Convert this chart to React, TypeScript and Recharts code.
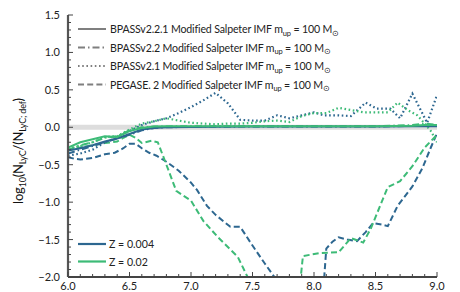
import React from "react";
import { LineChart, Line, XAxis, YAxis, ReferenceLine, Customized } from "recharts";

// ---- data ----
const solidZ004 = [
  [6.0, -0.31], [6.1, -0.28], [6.2, -0.24], [6.3, -0.19], [6.4, -0.15], [6.5, -0.09], [6.6, -0.03], [6.7, -0.01],
  [6.8, 0.0], [7.0, 0.005], [7.5, 0.01], [8.0, 0.01], [8.5, 0.01], [8.8, 0.015], [9.0, 0.015],
];
const solidZ02 = [
  [6.0, -0.27], [6.1, -0.2], [6.2, -0.16], [6.3, -0.12], [6.4, -0.13], [6.5, -0.05], [6.6, -0.01], [6.7, 0.01],
  [6.8, 0.015], [7.0, 0.015], [7.5, 0.015], [8.0, 0.015], [8.5, 0.015], [8.8, 0.02], [8.9, 0.03], [9.0, 0.03],
];
const dashdotZ004 = [
  [6.0, -0.35], [6.1, -0.3], [6.2, -0.25], [6.3, -0.2], [6.4, -0.15], [6.5, -0.1], [6.6, -0.04], [6.7, -0.01],
  [6.8, 0.0], [7.0, 0.005], [7.5, 0.01], [8.0, 0.01], [8.5, 0.01], [8.9, 0.02], [9.0, 0.02],
];
const dashdotZ02 = [
  [6.0, -0.3], [6.1, -0.24], [6.2, -0.2], [6.3, -0.14], [6.4, -0.12], [6.5, -0.04], [6.6, 0.0], [6.7, 0.01],
  [7.0, 0.015], [7.5, 0.015], [8.0, 0.015], [8.5, 0.015], [8.8, 0.03], [8.9, 0.05], [9.0, 0.03],
];
const dottedZ004 = [
  [6.0, -0.38], [6.1, -0.35], [6.2, -0.3], [6.3, -0.2], [6.4, -0.14], [6.5, -0.05], [6.6, 0.03], [6.7, 0.08],
  [6.8, 0.12], [6.9, 0.19], [7.0, 0.27], [7.1, 0.36], [7.2, 0.46], [7.3, 0.32], [7.4, 0.1], [7.5, 0.09],
  [7.6, 0.09], [7.7, 0.16], [7.8, 0.12], [7.9, 0.16], [8.0, 0.2], [8.08, 0.16], [8.2, 0.16], [8.3, 0.15],
  [8.42, 0.33], [8.51, 0.25], [8.62, 0.25], [8.7, 0.12], [8.8, 0.45], [8.88, 0.19], [8.92, 0.06], [9.0, 0.43],
];
const dottedZ02 = [
  [6.0, -0.28], [6.1, -0.25], [6.2, -0.2], [6.3, -0.13], [6.4, -0.12], [6.5, -0.03], [6.6, 0.05], [6.7, 0.08],
  [6.8, 0.12], [6.9, 0.09], [7.0, 0.06], [7.1, 0.05], [7.2, 0.04], [7.3, 0.05], [7.4, 0.05], [7.5, 0.06],
  [7.6, 0.08], [7.7, 0.09], [7.8, 0.07], [7.9, 0.15], [8.0, 0.19], [8.1, 0.19], [8.2, 0.26], [8.3, 0.23],
  [8.4, 0.2], [8.5, 0.2], [8.6, 0.2], [8.68, 0.33], [8.76, 0.23], [8.84, 0.16], [8.9, 0.05], [8.95, -0.05], [9.0, -0.2],
];
const dashedZ004 = [
  [6.0, -0.4], [6.05, -0.42], [6.1, -0.43], [6.2, -0.41], [6.3, -0.36], [6.38, -0.34], [6.45, -0.28], [6.5, -0.22],
  [6.55, -0.22], [6.6, -0.28], [6.66, -0.34], [6.72, -0.38], [6.8, -0.46], [6.9, -0.58], [7.0, -0.74], [7.05, -0.84],
  [7.13, -1.05], [7.2, -1.17], [7.32, -1.33], [7.4, -1.33], [7.5, -1.58], [7.6, -1.82], [7.7, -2.05], [7.8, -2.4],
  [8.0, -2.6], [8.07, -2.3], [8.1, -1.62], [8.15, -1.53], [8.2, -1.47], [8.27, -1.5], [8.35, -1.52], [8.42, -1.4],
  [8.48, -1.28], [8.55, -1.3], [8.6, -1.32], [8.68, -1.05], [8.8, -0.79], [8.88, -0.55], [8.95, -0.27], [9.0, -0.08],
];
const dashedZ02 = [
  [6.0, -0.31], [6.1, -0.27], [6.2, -0.24], [6.3, -0.21], [6.4, -0.19], [6.45, -0.14], [6.5, -0.1], [6.55, -0.14],
  [6.6, -0.21], [6.68, -0.18], [6.73, -0.2], [6.8, -0.5], [6.88, -0.85], [7.0, -0.98], [7.1, -1.25], [7.22, -1.47],
  [7.38, -1.73], [7.46, -2.0], [7.55, -2.4], [7.8, -2.6], [7.88, -2.2], [7.91, -1.72], [8.05, -1.68], [8.2, -1.67],
  [8.3, -1.48], [8.4, -1.54], [8.46, -1.36], [8.6, -0.8], [8.7, -0.72], [8.8, -0.52], [8.9, -0.27], [9.0, -0.1],
];

const xMajorTicks = [6.0, 6.5, 7.0, 7.5, 8.0, 8.5, 9.0];
const yMajorTicks = [-2.0, -1.5, -1.0, -0.5, 0.0, 0.5, 1.0, 1.5];
const xAllTicks = Array.from({ length: 31 }, (_, i) => Math.round((6 + i * 0.1) * 10) / 10);
const yAllTicks = Array.from({ length: 36 }, (_, i) => Math.round((-2 + i * 0.1) * 10) / 10);

const legendLabels = [
  "BPASSv2.2.1 Modified Salpeter IMF",
  "BPASSv2.2 Modified Salpeter IMF",
  "BPASSv2.1 Modified Salpeter IMF",
  "PEGASE. 2 Modified Salpeter IMF",
];
const metallicityLabels = ["Z = 0.004", "Z = 0.02"];

// ---- style ----
const BLUE = "#2d6790";
const GREEN = "#3dbb77";
const FONT = "Lato, 'Open Sans', sans-serif";
const W = 460;
const H = 292;
const M = { top: 15, right: 23, left: 0, bottom: 0 };
const YW = 68;
const XH = 15;
const PLOT_BOTTOM = H - M.bottom - XH;
const PLOT_LEFT = M.left + YW;

const toObj = (arr: number[][]) => arr.map(([x, y]) => ({ x, y }));

const DASH = { solid: undefined, dashdot: "7 3 1.5 3", dotted: "1.6 2.6", dashed: "6 3.2" } as const;

const isMajor = (v: number, list: number[]) => list.some((m) => Math.abs(m - v) < 1e-6);
const fmt = (v: number) => (v < 0 ? "\u2212" + Math.abs(v).toFixed(1) : v.toFixed(1));

const XTick = (props: any) => {
  const { x, payload } = props;
  const v = payload.value;
  const major = isMajor(v, xMajorTicks);
  return (
    <g>
      <line x1={x} x2={x} y1={PLOT_BOTTOM} y2={PLOT_BOTTOM - (major ? 5 : 3)} stroke="#444" strokeWidth={1} />
      {major && (
        <text x={x} y={PLOT_BOTTOM + 13} textAnchor="middle" fontSize={11} fontFamily={FONT} fill="#222">
          {v.toFixed(1)}
        </text>
      )}
    </g>
  );
};

const YTick = (props: any) => {
  const { y, payload } = props;
  const v = payload.value;
  const major = isMajor(v, yMajorTicks);
  return (
    <g>
      <line x1={PLOT_LEFT} x2={PLOT_LEFT + (major ? 5 : 3)} y1={y} y2={y} stroke="#444" strokeWidth={1} />
      {major && (
        <text x={PLOT_LEFT - 8} y={y + 4} textAnchor="end" fontSize={11} fontFamily={FONT} fill="#222">
          {fmt(v)}
        </text>
      )}
    </g>
  );
};

const Legends = () => {
  const styles = [DASH.solid, DASH.dashdot, DASH.dotted, DASH.dashed];
  const rowY = [29, 47.5, 66, 84.5];
  return (
    <g fontFamily={FONT} fontSize={10.6} fill="#222">
      {legendLabels.map((l, i) => (
        <g key={l}>
          <line x1={78} x2={106} y1={rowY[i]} y2={rowY[i]} stroke="#7f7f7f" strokeWidth={2} strokeDasharray={styles[i]} />
          <text x={110} y={rowY[i] + 4} letterSpacing={-0.15}>
            {l} m<tspan fontSize={7.5} dy={2.5}>up</tspan>
            <tspan dy={-2.5}> = 100 M</tspan>
            <tspan fontSize={8} dy={2.5}>{"\u2299"}</tspan>
          </text>
        </g>
      ))}
      {metallicityLabels.map((l, i) => (
        <g key={l}>
          <line x1={78} x2={106} y1={244 + i * 17.5} y2={244 + i * 17.5} stroke={i === 0 ? BLUE : GREEN} strokeWidth={2.2} />
          <text x={109} y={244 + i * 17.5 + 4}>{l}</text>
        </g>
      ))}
      <text
        transform={`translate(23, ${151}) rotate(-90)`}
        textAnchor="middle"
        fontSize={13}
        letterSpacing={-0.2}
        fill="#111"
      >
        log<tspan fontSize={9} dy={3}>10</tspan>
        <tspan dy={-3}>(N</tspan>
        <tspan fontSize={9} dy={3}>LyC</tspan>
        <tspan dy={-3}>/(N</tspan>
        <tspan fontSize={9} dy={3}>LyC; def</tspan>
        <tspan dy={-3}>)</tspan>
      </text>
    </g>
  );
};

const series = [
  { key: "dashedZ004", data: dashedZ004, color: BLUE, dash: DASH.dashed },
  { key: "dashedZ02", data: dashedZ02, color: GREEN, dash: DASH.dashed },
  { key: "dottedZ004", data: dottedZ004, color: BLUE, dash: DASH.dotted },
  { key: "dottedZ02", data: dottedZ02, color: GREEN, dash: DASH.dotted },
  { key: "dashdotZ004", data: dashdotZ004, color: BLUE, dash: DASH.dashdot },
  { key: "dashdotZ02", data: dashdotZ02, color: GREEN, dash: DASH.dashdot },
  { key: "solidZ004", data: solidZ004, color: BLUE, dash: DASH.solid },
  { key: "solidZ02", data: solidZ02, color: GREEN, dash: DASH.solid },
];

export default function App() {
  return (
    <div style={{ position: "absolute", left: 0, top: 0, width: W, height: H, background: "#fff" }}>
      <LineChart width={W} height={H} margin={M}>
        <XAxis
          dataKey="x"
          type="number"
          domain={[6, 9]}
          ticks={xAllTicks}
          tick={<XTick />}
          tickLine={false}
          axisLine={{ stroke: "#444", strokeWidth: 2 }}
          height={XH}
          allowDataOverflow
          interval={0}
        />
        <XAxis xAxisId="top" orientation="top" type="number" domain={[6, 9]} tick={false} tickLine={false} axisLine={{ stroke: "#111", strokeWidth: 1.2 }} height={0} />
        <YAxis
          dataKey="y"
          type="number"
          domain={[-2, 1.5]}
          ticks={yAllTicks}
          tick={<YTick />}
          tickLine={false}
          axisLine={{ stroke: "#555", strokeWidth: 2.2 }}
          width={YW}
          allowDataOverflow
          interval={0}
        />
        <YAxis yAxisId="right" orientation="right" type="number" domain={[-2, 1.5]} tick={false} tickLine={false} axisLine={{ stroke: "#888", strokeWidth: 2.2 }} width={0} />
        <ReferenceLine y={0} stroke="#dddddd" strokeWidth={5} />
        {series.map((s) => (
          <Line
            key={s.key}
            data={toObj(s.data)}
            dataKey="y"
            type="linear"
            stroke={s.color}
            strokeWidth={s.dash === DASH.dotted ? 2.2 : 2}
            strokeDasharray={s.dash}
            dot={false}
            activeDot={false}
            isAnimationActive={false}
          />
        ))}
        <Customized component={Legends} />
      </LineChart>
    </div>
  );
}
